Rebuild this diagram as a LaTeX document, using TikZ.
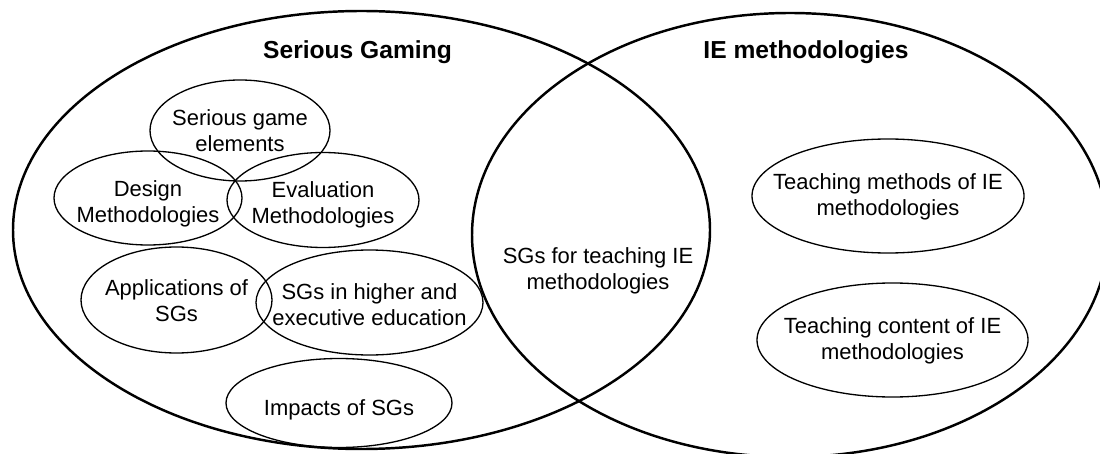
\documentclass[tikz,border=0pt]{standalone}
\usepackage{fontspec}
\setmainfont{Liberation Sans}
\begin{document}
\begin{tikzpicture}
     		\tikzset{
     		area/.style={line width=1.4pt},
     		topic/.style={line width=0.75pt},
     		topictext/.style={align=center,inner sep=0pt,font=\fontsize{12.5}{14.8}\selectfont},
     		areatitle/.style={anchor=base,inner sep=0pt,font=\fontsize{14}{16}\selectfont\bfseries}
     		}
     		\clip (0,0) rectangle (22,9.06);
     		% the two big sets
     		\draw[area] (7.23,4.46) ellipse (6.97 and 4.38);
     		\draw[area] (15.8,4.36) ellipse (6.36 and 4.44);
     		\node[areatitle] (sgtitle) at (7.15,7.88) {Serious Gaming};
     		\node[areatitle] (ietitle) at (16.12,7.88) {IE methodologies};
     		% serious gaming topics
     		\node[topictext] (elements) at (4.80,6.45) {Serious game\\elements};
     		\draw[topic] (4.80,6.45) ellipse (1.80 and 1.01);
     		\node[topictext] (design) at (2.96,4.98) {Design\\Methodologies};
     		\draw[topic] (2.96,5.10) ellipse (1.88 and 0.94);
     		\node[topictext] (evaluation) at (6.46,4.96) {Evaluation\\Methodologies};
     		\draw[topic] (6.46,5.06) ellipse (1.92 and 0.95);
     		\node[topictext] (applications) at (3.53,3.04) {Applications of\\SGs};
     		\draw[topic] (3.53,3.06) ellipse (1.91 and 1.06);
     		\node[topictext] (higher) at (7.39,2.97) {SGs in higher and\\executive education};
     		\draw[topic] (7.39,3.01) ellipse (2.27 and 1.05);
     		\node[topictext] (impacts) at (6.78,0.86) {Impacts of SGs};
     		\draw[topic] (6.78,1.00) ellipse (2.26 and 0.89);
     		% overlap
     		\node[topictext] (sgie) at (11.96,3.64) {SGs for teaching IE\\methodologies};
     		% IE methodologies topics
     		\node[topictext] (methods) at (17.76,5.12) {Teaching methods of IE\\methodologies};
     		\draw[topic] (17.76,5.14) ellipse (2.72 and 1.14);
     		\node[topictext] (content) at (17.85,2.24) {Teaching content of IE\\methodologies};
     		\draw[topic] (17.85,2.26) ellipse (2.71 and 1.14);
\end{tikzpicture}
\end{document}
